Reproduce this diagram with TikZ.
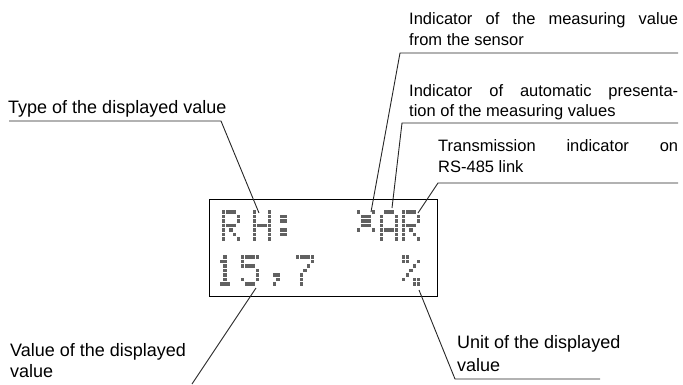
\documentclass[tikz,border=0pt]{standalone}
\usepackage{fontspec}
\setmainfont{Liberation Sans}
\newcommand\lcdglyph[3]{%
  \foreach \rw [count=\ri from 0] in {#3}{%
    \foreach \ci in {0,...,4}{%
      \pgfmathtruncatemacro\lcdbit{mod(floor(\rw/2^(4-\ci)),2)}%
      \ifnum\lcdbit=1 \fill[lcddot] ({#1+\ci*3.7},{#2+\ri*4.5}) rectangle ++(3.2,3.7);\fi
    }}}
\begin{document}
\begin{tikzpicture}[x=1pt,y=-1pt,
  font=\fontsize{18}{22}\selectfont,
  rfont/.style={font=\fontsize{16.5}{20}\selectfont},
  lbl/.style={inner sep=0pt, anchor=base west},
  lead/.style={line width=0.9pt, draw=black!85},
  lcddot/.style={fill=black!62},
  lcdbox/.style={draw, line width=1.3pt, inner sep=0pt, minimum width=228pt, minimum height=97pt, anchor=north west}]
\useasboundingbox (0,0) rectangle (683,384);

% LCD
\node[lcdbox] (lcd) at (209,199) {};
% top row: R H :
\lcdglyph{222}{210}{30,17,17,30,20,18,17}
\lcdglyph{253}{210}{17,17,17,31,17,17,17}
\lcdglyph{276}{210}{0,12,12,0,12,12,0}
% sensor cross, A, R
\lcdglyph{357}{210}{17,14,14,14,17,0,0}
\lcdglyph{380}{210}{14,17,17,17,31,17,17}
\lcdglyph{402}{210}{30,17,17,30,20,18,17}
% bottom row: 1 5 , 7  %
\lcdglyph{216}{255}{4,12,4,4,4,4,14}
\lcdglyph{241}{255}{31,16,30,1,1,17,14}
\lcdglyph{269}{255}{0,0,0,0,12,4,8}
\lcdglyph{296}{255}{31,1,2,4,8,8,8}
\lcdglyph{402}{255}{24,25,2,4,8,19,3}

% labels
\node[lbl] (type) at (8,113) {Type of the displayed value};
\node[lbl, rfont] (sens1) at (409,24) {\makebox[269pt][s]{Indicator of the measuring value}};
\node[lbl, rfont] (sens2) at (409,45) {from the sensor};
\node[lbl, rfont] (auto1) at (409,96) {\makebox[269pt][s]{Indicator of automatic presenta-}};
\node[lbl, rfont] (auto2) at (409,116) {tion of the measuring values};
\node[lbl, rfont] (tran1) at (438,151) {\makebox[240pt][s]{Transmission indicator on}};
\node[lbl, rfont] (tran2) at (438,172) {RS-485 link};
\node[lbl] (val1) at (10,356) {Value of the displayed};
\node[lbl] (val2) at (10,377) {value};
\node[lbl] (unit1) at (457,348) {Unit of the displayed};
\node[lbl] (unit2) at (457,371) {value};

% leader coordinates
\coordinate (typeA) at (9,121);
\coordinate (typeB) at (221,121);
\coordinate (typeT) at (259,213);
\coordinate (sensA) at (678,53);
\coordinate (sensB) at (400,53);
\coordinate (sensT) at (371,212);
\coordinate (autoA) at (678,123);
\coordinate (autoB) at (402,123);
\coordinate (autoT) at (392,208);
\coordinate (tranA) at (678,183);
\coordinate (tranB) at (438,183);
\coordinate (tranT) at (418,213);
\coordinate (valA) at (192,384);
\coordinate (valT) at (256,288);
\coordinate (unitA) at (600,379);
\coordinate (unitB) at (455,379);
\coordinate (unitT) at (419,290);

\draw[lead] (typeA) -- (typeB) -- (typeT);
\draw[lead] (sensA) -- (sensB) -- (sensT);
\draw[lead] (autoA) -- (autoB) -- (autoT);
\draw[lead] (tranA) -- (tranB) -- (tranT);
\draw[lead] (valA) -- (valT);
\draw[lead] (unitA) -- (unitB) -- (unitT);
\end{tikzpicture}
\end{document}
